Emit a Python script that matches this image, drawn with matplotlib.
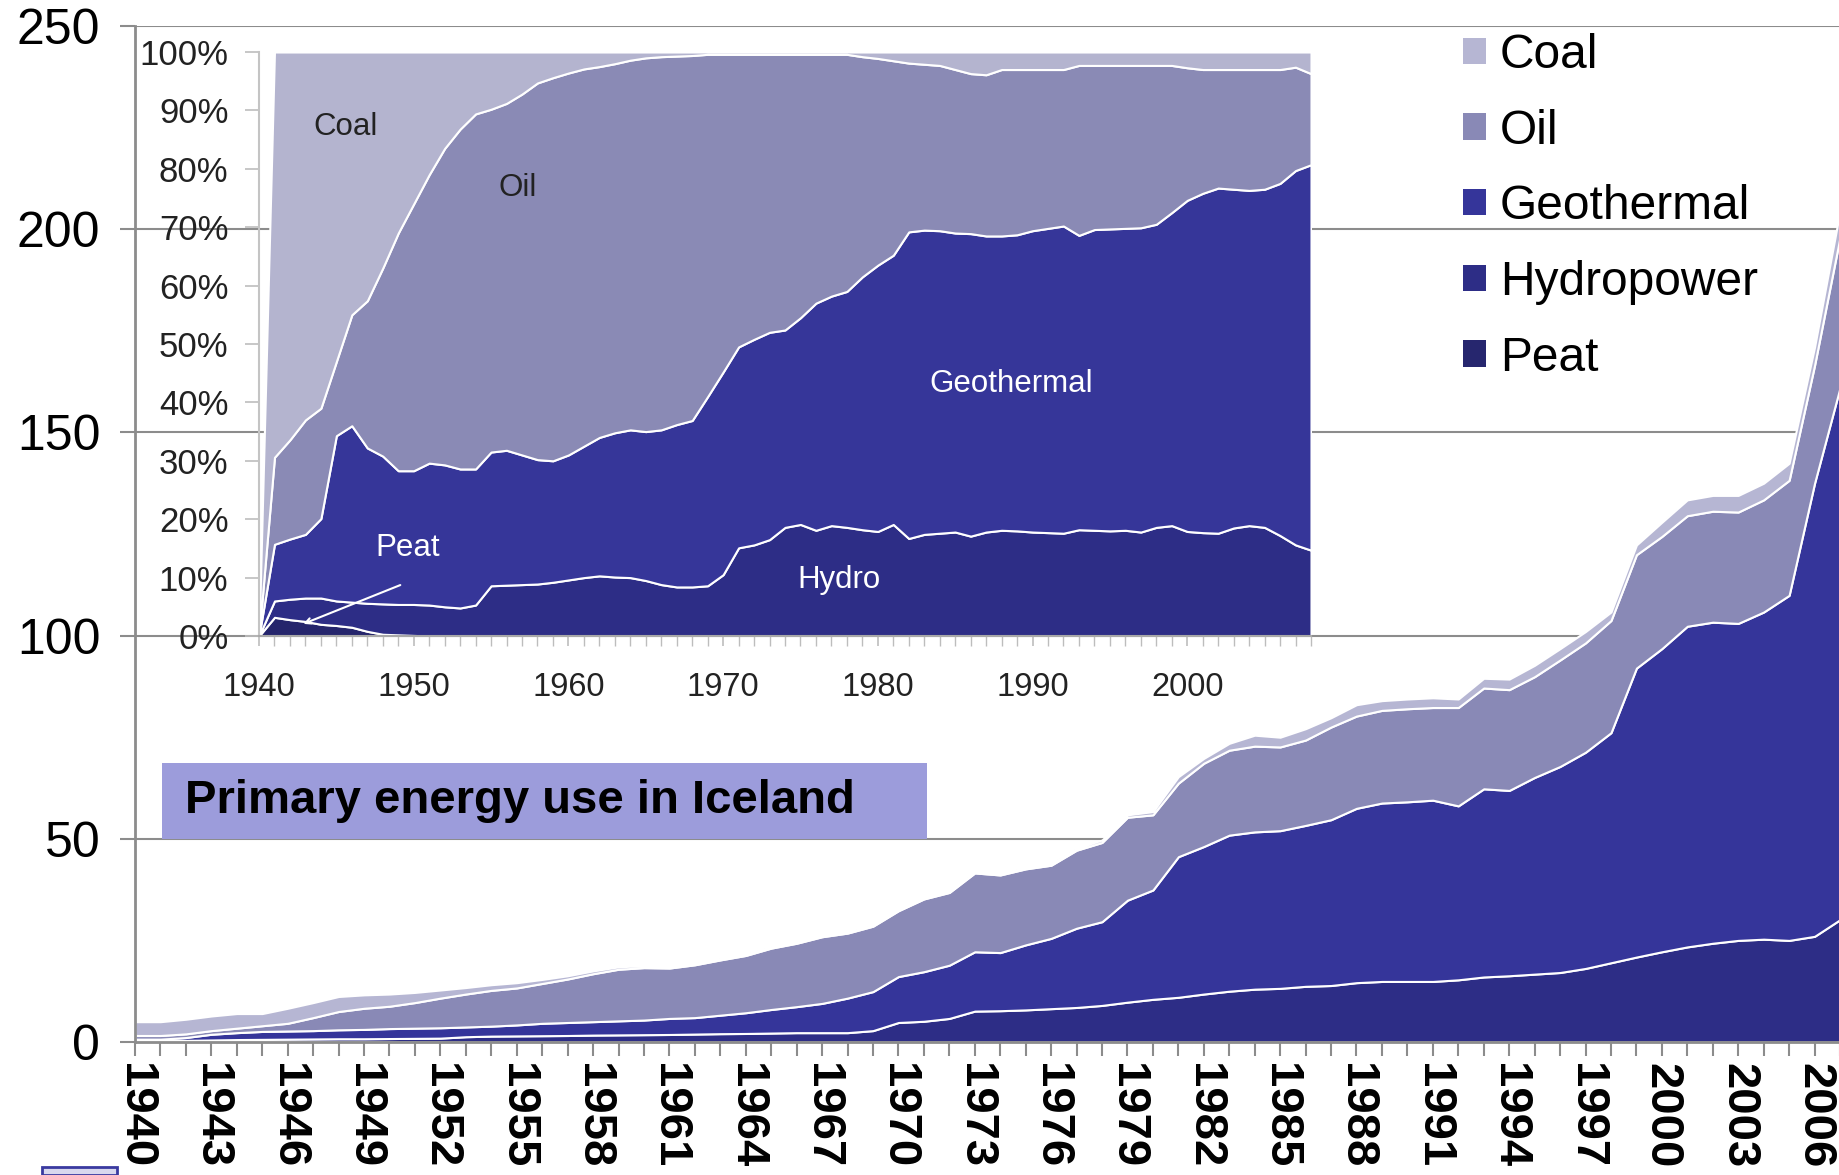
import matplotlib.pyplot as plt
from matplotlib.patches import Patch, Rectangle

plt.rcParams["font.family"] = ["Liberation Sans", "DejaVu Sans"]

# main chart: primary energy use, 1940-2007
years = list(range(1940, 2008))
labels = ["Peat", "Hydropower", "Geothermal", "Oil", "Coal"]

peat = [0.15, 0.2, 0.2, 0.2, 0.15, 0.15, 0.1, 0.05, 0.03, 0.02,
        0.02, 0.01, 0.01] + [0.0] * 55
hydro = [0.15, 0.15, 0.2, 0.3, 0.45, 0.5, 0.6, 0.7, 0.77, 0.78,
         0.83, 0.89, 0.94, 1.3, 1.45, 1.5, 1.55, 1.6, 1.7, 1.75,
         1.8, 1.85, 1.95, 2.05, 2.1, 2.2, 2.3, 2.3, 2.3, 2.8,
         4.8, 5.1, 5.8, 7.6, 7.7, 7.9, 8.2, 8.5, 9.0, 9.8,
         10.5, 11.0, 11.8, 12.5, 13.0, 13.2, 13.7, 13.9, 14.6, 14.9,
         14.9, 14.9, 15.3, 16.0, 16.3, 16.7, 17.1, 18.1, 19.5, 20.9,
         22.2, 23.4, 24.3, 25.0, 25.3, 25.0, 26.0, 30.1]
geo = [0.4, 0.35, 0.7, 1.4, 1.7, 1.95, 2.0, 2.05, 2.2, 2.3,
       2.45, 2.5, 2.55, 2.4, 2.45, 2.7, 3.05, 3.2, 3.3, 3.45,
       3.6, 3.95, 4.05, 4.55, 5.1, 5.8, 6.4, 7.2, 8.5, 9.6,
       11.3, 12.2, 13.1, 14.6, 14.3, 16.0, 17.3, 19.5, 20.6, 25.1,
       26.9, 34.6, 36.3, 38.4, 38.7, 38.8, 39.6, 40.8, 42.9, 43.9,
       44.2, 44.6, 42.8, 46.3, 45.6, 48.4, 50.7, 53.2, 56.6, 71.1,
       74.6, 78.9, 79.0, 78.0, 80.5, 84.9, 111.5, 130.9]
oil = [0.9, 0.9, 0.9, 0.9, 1.1, 1.4, 1.9, 3.2, 4.5, 5.2,
       5.5, 6.3, 7.3, 8.1, 8.8, 9.1, 9.8, 10.7, 11.8, 12.7,
       12.9, 12.4, 13.0, 13.6, 14.1, 15.1, 15.6, 16.4, 16.0, 16.1,
       16.2, 17.9, 17.9, 19.4, 19.1, 18.7, 18.0, 19.2, 19.5, 20.4,
       18.5, 18.1, 20.5, 20.9, 21.1, 20.6, 21.0, 22.8, 22.7, 22.8,
       22.9, 22.8, 24.2, 24.8, 24.8, 24.8, 26.2, 26.9, 27.6, 27.9,
       27.6, 27.2, 27.3, 27.4, 27.6, 28.3, 29.0, 37.0]
coal = [3.4, 3.4, 3.6, 3.6, 3.6, 3.0, 3.7, 3.7, 3.7, 3.3,
        3.0, 2.5, 2.0, 1.6, 1.4, 1.3, 1.0, 0.8, 0.7, 0.6,
        0.5, 0.5, 0.4, 0.4, 0.4, 0.4, 0.4, 0.4, 0.3, 0.3,
        0.2, 0.2, 0.2, 0.3, 0.4, 0.4, 0.5, 0.5, 0.6, 0.6,
        0.8, 1.6, 1.2, 1.7, 2.7, 2.4, 2.8, 2.3, 2.8, 2.4,
        2.4, 2.4, 2.1, 2.4, 2.6, 2.8, 2.8, 2.8, 2.1, 2.4,
        3.5, 3.9, 3.9, 4.1, 4.1, 4.2, 4.5, 6.5]

# inset: shares in percent, 1940-2008
inset_years = list(range(1940, 2009))
ins_peat = [0, 3.2, 2.8, 2.5, 2.0, 1.8, 1.5, 0.8, 0.3, 0.2, 0.1] + [0.0] * 58
ins_hydro = [0, 2.8, 3.5, 4.0, 4.5, 4.2, 4.3, 4.8, 5.2, 5.2,
             5.3, 5.3, 5.0, 4.8, 5.3, 8.6, 8.7, 8.8, 8.9, 9.2,
             9.6, 10.0, 10.3, 10.1, 10.0, 9.5, 8.8, 8.4, 8.4, 8.6,
             10.5, 15.1, 15.6, 16.5, 18.6, 19.1, 18.1, 18.9, 18.6, 18.2,
             17.9, 19.1, 16.7, 17.4, 17.6, 17.8, 17.1, 17.8, 18.1, 18.0,
             17.8, 17.7, 17.6, 18.2, 18.1, 18.0, 18.1, 17.8, 18.6, 18.9,
             17.9, 17.7, 17.6, 18.5, 18.9, 18.6, 17.2, 15.6, 14.7]
ins_geo = [0, 9.7, 10.3, 10.9, 13.6, 28.3, 30.2, 26.6, 25.3, 22.9,
           22.9, 24.3, 24.3, 23.8, 23.3, 22.9, 23.1, 22.2, 21.3, 20.8,
           21.4, 22.5, 23.7, 24.7, 25.3, 25.5, 26.5, 27.8, 28.5, 32.4,
           34.7, 34.4, 35.2, 35.5, 33.8, 35.4, 38.9, 39.3, 40.4, 43.3,
           45.6, 46.1, 52.5, 52.1, 51.8, 51.2, 51.8, 50.7, 50.4, 50.7,
           51.6, 52.1, 52.6, 50.4, 51.5, 51.7, 51.7, 52.1, 51.9, 53.6,
           56.7, 58.1, 59.1, 58.0, 57.4, 57.9, 60.3, 64.1, 66.0]
ins_oil = [0, 14.9, 17.0, 19.6, 18.9, 12.7, 19.0, 25.2, 32.2, 40.7,
           45.7, 49.4, 54.2, 58.2, 60.8, 58.7, 59.4, 61.8, 64.5, 65.6,
           65.4, 64.6, 63.5, 63.2, 63.3, 64.0, 63.9, 63.1, 62.5, 58.6,
           54.4, 50.1, 48.8, 47.6, 47.2, 45.1, 42.6, 41.4, 40.6, 37.7,
           35.4, 33.3, 28.9, 28.4, 28.3, 28.0, 27.4, 27.6, 28.5, 28.3,
           27.6, 27.2, 26.8, 29.1, 28.1, 28.0, 27.9, 27.8, 27.2, 25.2,
           22.7, 21.2, 20.3, 20.5, 20.7, 20.5, 19.5, 17.7, 15.6]
ins_coal = [0, 69.4, 66.4, 63.0, 61.0, 53.0, 45.0, 42.6, 37.0, 31.0,
            26.0, 21.0, 16.5, 13.2, 10.6, 9.8, 8.8, 7.2, 5.3, 4.4,
            3.6, 2.9, 2.5, 2.0, 1.4, 1.0, 0.8, 0.7, 0.6, 0.4,
            0.4, 0.4, 0.4, 0.4, 0.4, 0.4, 0.4, 0.4, 0.4, 0.8,
            1.1, 1.5, 1.9, 2.1, 2.3, 3.0, 3.7, 3.9, 3.0, 3.0,
            3.0, 3.0, 3.0, 2.3, 2.3, 2.3, 2.3, 2.3, 2.3, 2.3,
            2.7, 3.0, 3.0, 3.0, 3.0, 3.0, 3.0, 2.6, 3.7]

colors = ["#26266e", "#2d2d86", "#35359a", "#8989b6", "#b6b6d3"]
grey = "#8c8c8c"

fig = plt.figure(figsize=(18.4, 11.75), dpi=100)

# ---- main stacked area ----
ax = fig.add_axes([135 / 1840, 133 / 1175, 1705 / 1840, 1016 / 1175])
ax.stackplot(years, peat, hydro, geo, oil, coal, colors=colors,
             edgecolor="white", linewidth=1.5)
ax.set_xlim(1940, 2007)
ax.set_ylim(0, 250)
ax.set_yticks(range(0, 251, 50))
ax.grid(axis="y", color=grey, linewidth=1.5)
ax.set_axisbelow(True)
for s in ["top", "right"]:
    ax.spines[s].set_visible(False)
for s in ["left", "bottom"]:
    ax.spines[s].set_color(grey)
    ax.spines[s].set_linewidth(2)
ax.tick_params(axis="y", length=11, width=1.5, color=grey, labelsize=36, pad=14)
ax.set_xticks(years)
ax.set_xticklabels([str(y) if (y - 1940) % 3 == 0 else "" for y in years],
                   rotation=-90, fontweight="bold", fontsize=34)
ax.tick_params(axis="x", length=10, width=1.5, color=grey, pad=5)

# ---- inset: shares ----
axin = fig.add_axes([259 / 1840, 539 / 1175, 1052 / 1840, 584 / 1175], zorder=3)
axin.patch.set_visible(False)
axin.stackplot(inset_years, ins_peat, ins_hydro, ins_geo, ins_oil, ins_coal,
               colors=["#25256c", "#2d2d86", "#363699", "#8a8ab5", "#b4b4cf"],
               edgecolor="white", linewidth=1.5)
axin.set_xlim(1940, 2008)
axin.set_ylim(0, 100)
axin.set_yticks(range(0, 101, 10))
axin.set_yticklabels([f"{v}%" for v in range(0, 101, 10)])
axin.set_xticks(range(1940, 2001, 10))
axin.set_xticks(inset_years, minor=True)
for s in ["top", "right"]:
    axin.spines[s].set_visible(False)
axin.spines["left"].set_color("#c4c4c4")
axin.spines["left"].set_linewidth(1.5)
axin.spines["bottom"].set_color("#a8a8a8")
axin.spines["bottom"].set_linewidth(1.5)
axin.tick_params(axis="y", length=10, width=1.2, color="#bdbdbd",
                 labelsize=25, labelcolor="#222222", pad=12)
axin.tick_params(axis="x", which="major", length=7, width=1.2, color="#bdbdbd",
                 labelsize=23.5, labelcolor="#222222", pad=19)
axin.tick_params(axis="x", which="minor", length=7, width=1.0, color="#bdbdbd")

axin.text(1945.6, 87.2, "Coal", fontsize=22.5, color="#222222", ha="center", va="center")
axin.text(1956.7, 76.7, "Oil", fontsize=22.5, color="#222222", ha="center", va="center")
axin.text(1988.6, 43.2, "Geothermal", fontsize=22.5, color="white", ha="center", va="center")
axin.text(1949.6, 15.1, "Peat", fontsize=22.5, color="white", ha="center", va="center")
axin.text(1977.5, 9.6, "Hydro", fontsize=22.5, color="white", ha="center", va="center")
axin.annotate("", xy=(1942.7, 1.9), xytext=(1949.3, 8.9),
              arrowprops=dict(arrowstyle="->", color="white", lw=1.5))

# ---- legend ----
handles = [Patch(facecolor=c, edgecolor="none") for c in colors[::-1]]
fig.legend(handles, labels[::-1], loc="upper left",
           bbox_to_anchor=(1463 / 1840, 1 - 33 / 1175), frameon=False,
           fontsize=34.5, handlelength=0.47, handleheight=0.47,
           handletextpad=0.3, labelspacing=0.64, borderpad=0, borderaxespad=0)

# ---- title box ----
fig.patches.append(Rectangle((162 / 1840, 336 / 1175), 765 / 1840, 76 / 1175,
                             transform=fig.transFigure, facecolor="#9c9cdb",
                             edgecolor="none", zorder=4))
fig.text(185 / 1840, 374 / 1175, "Primary energy use in Iceland", fontsize=34,
         fontweight="bold", va="center", ha="left", zorder=5)

# small slide artefact in the lower left corner
fig.patches.append(Rectangle((42 / 1840, 0), 75 / 1840, 8 / 1175,
                             transform=fig.transFigure, facecolor="#d8d8ee",
                             edgecolor="#3a3aa0", linewidth=2, zorder=4))

fig.savefig("out.png", dpi=100)
